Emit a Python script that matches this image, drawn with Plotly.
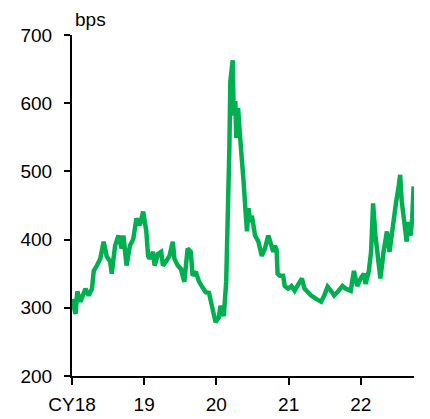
import plotly.graph_objects as go

dates = [
    "2018-01-02", "2018-01-19", "2018-01-28", "2018-02-13", "2018-03-10", "2018-03-27",
    "2018-04-12", "2018-04-21", "2018-05-07", "2018-05-24", "2018-06-10", "2018-06-26",
    "2018-07-13", "2018-07-21", "2018-08-07", "2018-08-24", "2018-09-09", "2018-09-18",
    "2018-10-04", "2018-10-21", "2018-11-07", "2018-11-23", "2018-12-10", "2018-12-27",
    "2019-01-12", "2019-01-21", "2019-01-29", "2019-02-15", "2019-02-23", "2019-03-12",
    "2019-03-28", "2019-04-06", "2019-04-22", "2019-05-09", "2019-05-26", "2019-06-03",
    "2019-06-20", "2019-07-06", "2019-07-23", "2019-08-09", "2019-08-25", "2019-09-03",
    "2019-09-19", "2019-10-06", "2019-10-23", "2019-11-08", "2019-11-25", "2019-12-12",
    "2019-12-28", "2020-01-14", "2020-01-22", "2020-01-31", "2020-02-08", "2020-02-20",
    "2020-03-01", "2020-03-07", "2020-03-12", "2020-03-24", "2020-03-29", "2020-04-06",
    "2020-04-11", "2020-04-20", "2020-04-28", "2020-05-06", "2020-05-18", "2020-05-26",
    "2020-06-04", "2020-06-12", "2020-06-20", "2020-06-29", "2020-07-15", "2020-08-01",
    "2020-08-18", "2020-09-03", "2020-09-20", "2020-10-07", "2020-10-15", "2020-10-23",
    "2020-11-01", "2020-11-06", "2020-11-17", "2020-12-04", "2020-12-12", "2020-12-29",
    "2021-01-15", "2021-01-31", "2021-02-17", "2021-03-09", "2021-03-22", "2021-04-08",
    "2021-04-25", "2021-05-20", "2021-06-14", "2021-06-30", "2021-07-17", "2021-08-03",
    "2021-08-19", "2021-09-05", "2021-09-30", "2021-10-17", "2021-11-11", "2021-11-27",
    "2021-12-14", "2021-12-31", "2022-01-16", "2022-01-25", "2022-02-10", "2022-02-22",
    "2022-03-04", "2022-03-16", "2022-04-01", "2022-04-10", "2022-04-26", "2022-05-13",
    "2022-05-26", "2022-06-12", "2022-06-29", "2022-07-10", "2022-07-19", "2022-07-27",
    "2022-08-13", "2022-08-21", "2022-08-29", "2022-09-10", "2022-09-18", "2022-09-25",
]
spread_bps = [
    313, 291, 324, 309, 328, 318,
    328, 354, 362, 372, 397, 375,
    368, 350, 391, 406, 387, 406,
    362, 391, 401, 431, 421, 441,
    412, 376, 372, 382, 362, 379,
    382, 362, 368, 376, 397, 372,
    362, 357, 338, 387, 382, 347,
    353, 338, 330, 323, 322, 297,
    279, 286, 303, 295, 288, 338,
    435, 534, 632, 663, 582, 603,
    549, 593, 559, 534, 485, 450,
    412, 446, 426, 435, 406, 397,
    376, 387, 406, 390, 382, 391,
    385, 350, 347, 347, 332, 328,
    332, 325, 332, 343, 328, 323,
    318, 313, 309, 318, 331, 325,
    318, 323, 332, 328, 325, 354,
    332, 343, 350, 335, 353, 382,
    453, 406, 372, 343, 382, 412,
    382, 426, 456, 475, 495, 456,
    421, 397, 426, 406, 431, 478,
]

tick_dates = ["2018-01-01", "2019-01-01", "2020-01-01", "2021-01-01", "2022-01-01"]
tick_labels = ["CY18", "19", "20", "21", "22"]
y_ticks = [200, 300, 400, 500, 600, 700]

fig = go.Figure()
fig.add_trace(go.Scatter(
    x=dates,
    y=spread_bps,
    mode="lines",
    line=dict(color="#00B050", width=4.5),
    showlegend=False,
))

font = dict(family="Liberation Sans, Arial", size=19, color="#000000")

fig.update_layout(
    width=430,
    height=419,
    margin=dict(l=61, r=24, t=27, b=43),
    paper_bgcolor="white",
    plot_bgcolor="white",
    font=font,
    xaxis=dict(
        type="date",
        range=["2018-01-01", "2022-09-27"],
        tickvals=tick_dates,
        ticktext=tick_labels,
        ticks="outside",
        ticklen=7,
        tickwidth=2,
        tickcolor="#000000",
        showline=True,
        linecolor="#000000",
        linewidth=2,
        showgrid=False,
        zeroline=False,
        ticklabelstandoff=3,
    ),
    yaxis=dict(
        range=[200, 700],
        tickvals=y_ticks,
        ticks="outside",
        ticklen=6,
        tickwidth=2,
        tickcolor="#000000",
        showline=True,
        linecolor="#000000",
        linewidth=2,
        showgrid=False,
        zeroline=False,
        ticklabelstandoff=8,
    ),
    annotations=[dict(
        text="bps",
        xref="paper", yref="paper",
        x=0, y=1,
        xanchor="left", yanchor="bottom",
        xshift=1, yshift=3,
        showarrow=False,
        font=font,
    )],
)

fig.write_html("out.html")
